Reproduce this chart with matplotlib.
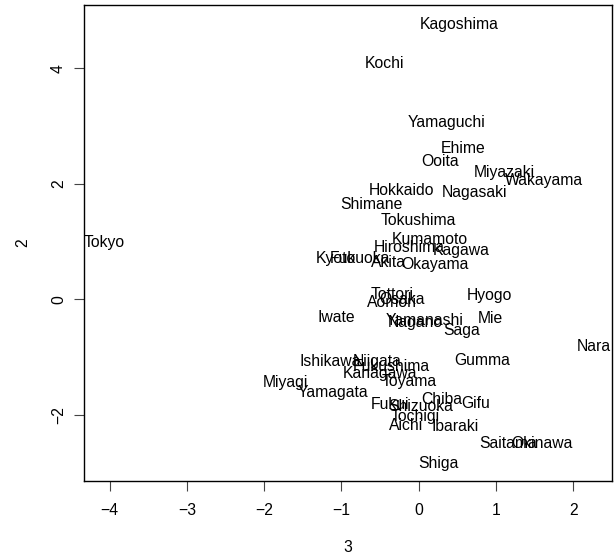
import matplotlib
matplotlib.use("Agg")
import matplotlib.pyplot as plt
import numpy as np

plt.rcParams['font.family'] = ['Liberation Sans', 'DejaVu Sans']

# prefecture labels with their coordinates (dim 3 on x, dim 2 on y)
names = ["Hokkaido", "Aomori", "Iwate", "Miyagi", "Akita", "Yamagata", "Fukushima",
         "Ibaraki", "Tochigi", "Gumma", "Saitama", "Chiba", "Tokyo", "Kanagawa",
         "Niigata", "Toyama", "Ishikawa", "Fukui", "Yamanashi", "Nagano", "Gifu",
         "Shizuoka", "Aichi", "Mie", "Shiga", "Kyoto", "Osaka", "Hyogo", "Nara",
         "Wakayama", "Tottori", "Shimane", "Okayama", "Hiroshima", "Yamaguchi",
         "Tokushima", "Kagawa", "Ehime", "Kochi", "Fukuoka", "Saga", "Nagasaki",
         "Kumamoto", "Ooita", "Miyazaki", "Kagoshima", "Okinawa"]
dim3 = [-0.22, -0.35, -1.06, -1.72, -0.39, -1.11, -0.36,
        0.47, -0.04, 0.82, 1.16, 0.30, -4.07, -0.50,
        -0.54, -0.12, -1.14, -0.37, 0.08, -0.05, 0.74,
        0.03, -0.16, 0.92, 0.26, -1.07, -0.22, 0.92, 2.26,
        1.62, -0.35, -0.61, 0.21, -0.12, 0.36,
        0.00, 0.55, 0.58, -0.44, -0.76, 0.56, 0.72,
        0.14, 0.27, 1.11, 0.52, 1.59]
dim2 = [1.89, -0.06, -0.32, -1.45, 0.64, -1.62, -1.17,
        -2.21, -2.03, -1.06, -2.50, -1.74, 0.99, -1.29,
        -1.08, -1.43, -1.08, -1.82, -0.36, -0.41, -1.81,
        -1.86, -2.19, -0.34, -2.85, 0.70, 0.00, 0.06, -0.82,
        2.06, 0.09, 1.64, 0.61, 0.90, 3.06,
        1.37, 0.84, 2.61, 4.08, 0.70, -0.55, 1.85,
        1.04, 2.39, 2.20, 4.76, -2.50]

x_ticks = [-4, -3, -2, -1, 0, 1, 2]
y_ticks = [-2, 0, 2, 4]

fig = plt.figure(figsize=(6.14, 5.55), dpi=100)
ax = fig.add_axes([0.1368, 0.1333, 0.86, 0.8577])

for n, xi, yi in zip(names, dim3, dim2):
    ax.text(xi, yi, n, ha='center', va='center', fontsize=11.3)

ax.set_xlim(-4.33, 2.50)
ax.set_ylim(-3.15, 5.10)

ax.set_xticks(x_ticks)
ax.set_yticks(y_ticks)
ax.set_xticklabels([str(t).replace('-', '\u2212') for t in x_ticks])
ax.set_yticklabels([str(t).replace('-', '\u2212') for t in y_ticks], rotation=90, va='center')
ax.tick_params(length=7, width=0.8, labelsize=11.3, color='#444444')
ax.tick_params(axis='x', pad=9)
ax.tick_params(axis='y', pad=6)
for s in ax.spines.values():
    s.set_linewidth(1.0)

ax.set_xlabel('3', fontsize=11.3, labelpad=16)
ax.set_ylabel('2', fontsize=11.3, labelpad=15)

fig.savefig('out.png', dpi=100)
